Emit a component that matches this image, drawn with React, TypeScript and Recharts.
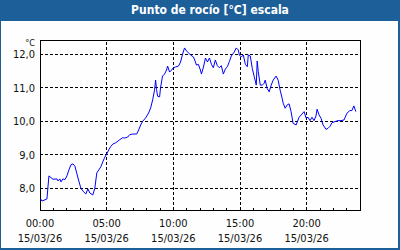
import { CartesianGrid, Line, LineChart, ReferenceArea, ReferenceLine, XAxis, YAxis } from 'recharts';

// hours since 00:00 on 15/03/26
const hours = [
  0.05, 0.15, 0.52, 0.67, 0.97, 1.27, 1.35, 1.49, 1.57, 1.72, 1.87, 2.02, 2.17, 2.32, 2.47, 2.62, 2.77, 2.91,
  3.06, 3.21, 3.44, 3.59, 3.74, 3.96, 4.11, 4.26, 4.41, 4.56, 4.71, 4.86, 5.01, 5.16, 5.31, 5.46, 5.68, 5.98,
  6.2, 6.35, 6.58, 6.73, 6.95, 7.25, 7.4, 7.55, 7.7, 7.92, 8.15, 8.3, 8.45, 8.59, 8.67, 8.74, 8.82, 8.97,
  9.04, 9.19, 9.34, 9.49, 9.57, 9.72, 9.87, 10.01, 10.16, 10.39, 10.54, 10.69, 10.84, 10.99, 11.14, 11.29,
  11.51, 11.66, 11.73, 11.88, 12.03, 12.11, 12.26, 12.41, 12.56, 12.71, 12.86, 13.0, 13.15, 13.3, 13.45,
  13.6, 13.75, 13.9, 14.05, 14.2, 14.35, 14.57, 14.72, 14.87, 14.95, 15.1, 15.25, 15.4, 15.55, 15.62, 15.77,
  15.92, 16.07, 16.22, 16.29, 16.37, 16.52, 16.67, 16.82, 16.89, 17.04, 17.19, 17.34, 17.49, 17.71, 17.86,
  18.01, 18.16, 18.24, 18.39, 18.54, 18.68, 18.83, 18.98, 19.21, 19.43, 19.66, 19.81, 19.96, 20.1, 20.25,
  20.4, 20.55, 20.7, 20.78, 20.93, 21.08, 21.23, 21.45, 21.6, 21.75, 21.9, 22.12, 22.35, 22.57, 22.8, 23.02,
  23.24, 23.39, 23.54, 23.69,
];

const dewPoint = [
  7.68, 7.62, 7.68, 8.37, 8.27, 8.28, 8.22, 8.28, 8.19, 8.28, 8.26, 8.37, 8.55, 8.7, 8.73, 8.66, 8.43, 8.22,
  8.01, 7.92, 7.83, 7.98, 7.86, 7.8, 8.0, 8.46, 8.55, 8.64, 8.79, 8.93, 9.03, 9.15, 9.25, 9.32, 9.36, 9.45,
  9.51, 9.5, 9.53, 9.6, 9.62, 9.62, 9.74, 9.89, 10.0, 10.1, 10.25, 10.4, 10.64, 10.93, 11.23, 10.95, 10.75, 10.73,
  11.0, 11.35, 11.41, 11.53, 11.65, 11.47, 11.53, 11.6, 11.62, 11.65, 11.77, 12.0, 12.19, 12.1, 12.04, 11.98,
  11.92, 11.77, 11.68, 11.7, 11.53, 11.41, 11.62, 11.89, 11.77, 11.89, 11.7, 11.6, 11.83, 11.66, 11.6,
  11.66, 11.41, 11.56, 11.63, 11.78, 11.95, 12.07, 12.19, 12.13, 11.98, 11.92, 11.98, 11.7, 11.63, 11.98, 11.95,
  11.58, 11.33, 11.08, 11.8, 11.48, 11.08, 11.08, 11.14, 11.23, 10.98, 10.88, 11.08, 11.23, 11.35, 11.23,
  10.93, 10.69, 10.54, 10.39, 10.49, 10.52, 10.29, 9.94, 9.89, 10.12, 10.22, 10.29, 10.09, 10.12, 10.02,
  10.12, 10.02, 10.16, 10.36, 10.19, 10.09, 9.89, 9.76, 9.79, 9.85, 9.96, 9.99, 10.02, 10.02, 10.04, 10.24,
  10.32, 10.32, 10.46, 10.29,
];

const hourTicks = Array.from({ length: 25 }, (_, i) => i);
const labelHours = [0, 5, 10, 15, 20];
const yTicks = [8, 9, 10, 11, 12];
const dateLabel = '15/03/26';

const data = hours.map((h, i) => ({ h, v: dewPoint[i] }));

const font = "'DejaVu Sans Condensed', 'DejaVu Sans', sans-serif";
const blue = '#1d5f99';

function HourTick({ x, y, payload }: any) {
  const h = payload.value;
  if (!labelHours.includes(h)) return null;
  return (
    <text textAnchor="middle" fontSize={11} fill="#111" fontFamily={font}>
      <tspan x={x} y={y + 17}>{String(h).padStart(2, '0')}:00</tspan>
      <tspan x={x} y={y + 31.5}>{dateLabel}</tspan>
    </text>
  );
}

export default function App() {
  return (
    <div style={{ position: 'absolute', left: 0, top: 0, width: 400, height: 250, background: blue }}>
      <style>{'.recharts-cartesian-grid line, .recharts-reference-line line, .recharts-reference-area-rect, .recharts-cartesian-axis-tick-line { shape-rendering: crispEdges; }'}</style>
      <div style={{ position: 'absolute', left: 1, top: 21, width: 397, height: 227, background: '#fdfefd' }} />
      <div
        style={{
          position: 'absolute', left: 20, top: 0, width: 380, height: 20, lineHeight: '20px', textAlign: 'center',
          color: '#fff', fontWeight: 'bold', fontSize: 12, fontFamily: font,
        }}
      >
        Punto de rocío [°C] escala
      </div>
      <div
        style={{
          position: 'absolute', left: 0, top: 39, width: 35, height: 9, lineHeight: '9px', textAlign: 'right',
          fontSize: 9, fontFamily: font, color: '#111',
        }}
      >
        °C
      </div>
      <div style={{ position: 'absolute', left: 0, top: 0 }}>
        <LineChart width={400} height={250} data={data} margin={{ top: 40, right: 40, left: 0, bottom: 0 }}>
          <CartesianGrid vertical={false} stroke="#000" strokeDasharray="3 2" />
          {labelHours.slice(1).map((h) => (
            <ReferenceLine key={h} x={h} stroke="#000" strokeDasharray="3 2" />
          ))}
          <XAxis
            dataKey="h"
            type="number"
            domain={[0, 24]}
            ticks={hourTicks}
            interval={0}
            allowDataOverflow
            height={40}
            axisLine={false}
            tickLine={{ stroke: '#000' }}
            tickSize={-2}
            tickMargin={2}
            tick={<HourTick />}
          />
          <YAxis
            type="number"
            domain={[7.352, 12.427]}
            ticks={yTicks}
            allowDataOverflow
            width={40}
            axisLine={false}
            tickLine={false}
            tickSize={0}
            tickMargin={5}
            tick={{ fontSize: 11, fill: '#111', fontFamily: font }}
            tickFormatter={(v: number) => v.toFixed(1).replace('.', ',')}
          />
          <ReferenceArea x1={0} x2={24} y1={7.352} y2={12.427} fill="none" stroke="#000" strokeWidth={1} />
          <Line type="linear" dataKey="v" stroke="#0000ff" strokeWidth={1} dot={false} isAnimationActive={false} />
        </LineChart>
      </div>
    </div>
  );
}
